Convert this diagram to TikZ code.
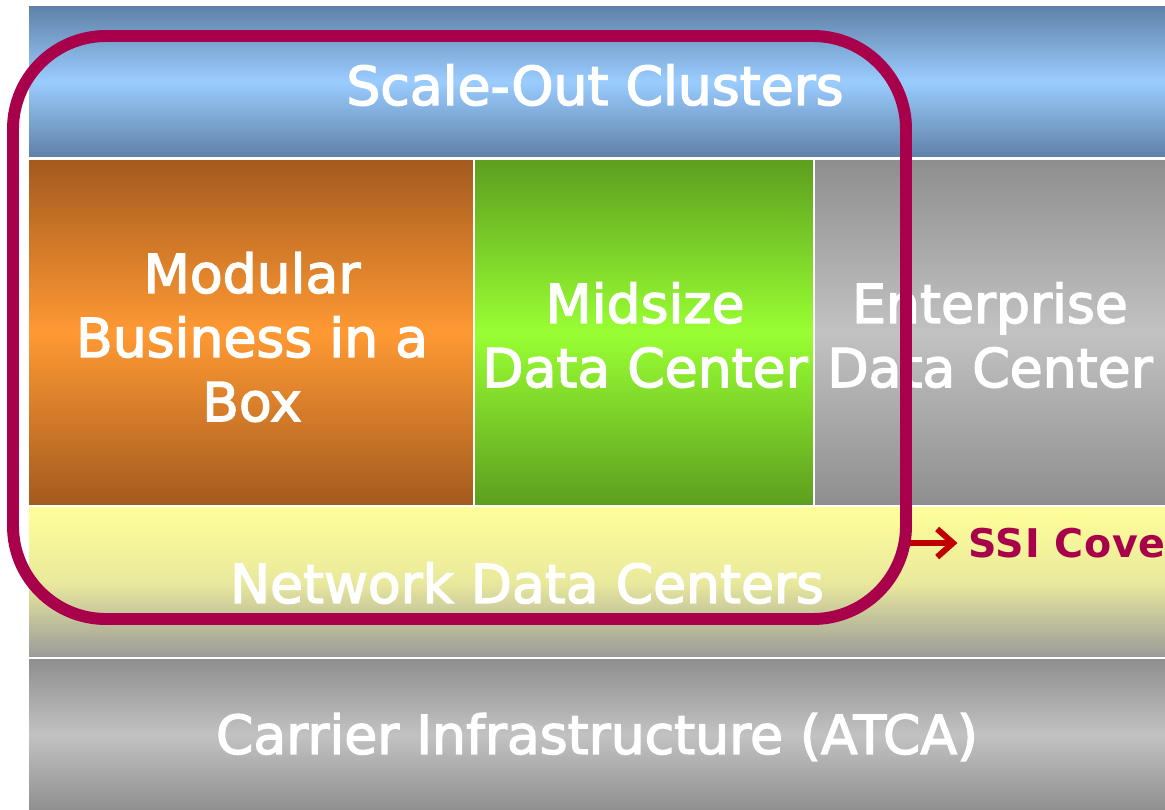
\documentclass[tikz,border=0pt]{standalone}
\usepackage{fontspec}
\setmainfont{DejaVu Sans}
\newfontfamily\lblfont{DejaVu Sans}[FakeBold=2.6]
\newfontfamily\ssifont{DejaVu Sans Bold}[LetterSpace=2]
\usetikzlibrary{arrows.meta}
\definecolor{ssired}{HTML}{A8004A}
\definecolor{arrowred}{HTML}{C00000}
\definecolor{blueedge}{HTML}{5E80A6}
\definecolor{bluemid}{HTML}{9ACCFF}
\definecolor{orangeedge}{HTML}{A35A1E}
\definecolor{orangemid}{HTML}{FF9933}
\definecolor{greenedge}{HTML}{5C9E1E}
\definecolor{greenmid}{HTML}{99FF33}
\definecolor{grayedge}{HTML}{8E8E8E}
\definecolor{graymid}{HTML}{C2C2C2}
\definecolor{yellowtop}{HTML}{FFFF99}
\definecolor{yellowmid}{HTML}{E9E99D}
\tikzset{
  band/.style={draw=white, line width=1.6pt},
  lbl/.style={text=white, font=\lblfont\fontsize{30.5}{36.5}\selectfont, align=center, inner sep=0pt},
}

\begin{document}
\begin{tikzpicture}[x=0.02cm,y=-0.02cm]
  \useasboundingbox (0,0) rectangle (1165,809);
  % layers
  \path[band, top color=blueedge, bottom color=blueedge, middle color=bluemid] (28,5) rectangle (1167,158);
  \path[band, top color=orangeedge, bottom color=orangeedge, middle color=orangemid] (28,159) rectangle (474,506);
  \path[band, top color=greenedge, bottom color=greenedge, middle color=greenmid] (474,159) rectangle (814,506);
  \path[band, top color=grayedge, bottom color=grayedge, middle color=graymid] (814,159) rectangle (1167,506);
  \path[band, top color=yellowtop, bottom color=grayedge!90!white, middle color=yellowmid] (28,506) rectangle (1167,658);
  \path[band, top color=grayedge, bottom color=grayedge, middle color=graymid] (28,658) rectangle (1167,812);

  \draw (595,85) node[lbl] (clusters) {Scale-Out Clusters};
  \draw (252,337) node[lbl] (modular) {Modular\\ Business in a\\ Box};
  \draw (645,335) node[lbl] (midsize) {Midsize\\ Data Center};
  \draw (990,335) node[lbl] (enterprise) {Enterprise\\ Data Center};
  \draw (527,583) node[lbl] (network) {Network Data Centers};
  \draw (597,737) node[lbl] (carrier) {Carrier Infrastructure (ATCA)};

  % coverage outline
  \draw[ssired, line width=6.8pt, rounded corners=1.86cm] (13,36) rectangle (906,619);
  \coordinate (ssistart) at (910,543);
  \draw (968,543) node[anchor=west, inner sep=0pt, text=ssired, font=\ssifont\fontsize{22.5}{27}\selectfont] (ssi) {SSI Cove};
  \draw[arrowred, line width=3.4pt, -{Straight Barb[length=9pt,width=16pt,line width=3.4pt]}] (ssistart) -- ([xshift=-6pt]ssi.west);
\end{tikzpicture}
\end{document}
